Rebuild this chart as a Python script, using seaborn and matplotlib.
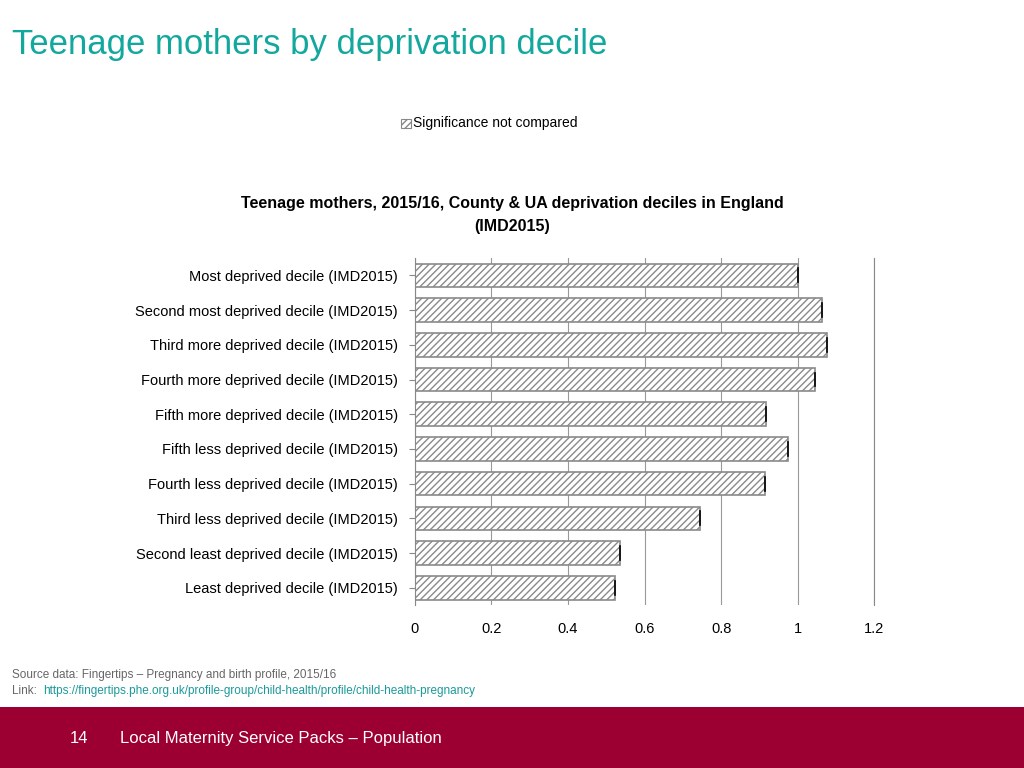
import pandas as pd
import seaborn as sns
import matplotlib.pyplot as plt
from matplotlib.patches import Rectangle

categories = ['Most deprived decile (IMD2015)', 'Second most deprived decile (IMD2015)',
              'Third more deprived decile (IMD2015)', 'Fourth more deprived decile (IMD2015)',
              'Fifth more deprived decile (IMD2015)', 'Fifth less deprived decile (IMD2015)',
              'Fourth less deprived decile (IMD2015)', 'Third less deprived decile (IMD2015)',
              'Second least deprived decile (IMD2015)', 'Least deprived decile (IMD2015)']
values = [1.0, 1.062, 1.075, 1.044, 0.918, 0.973, 0.913, 0.744, 0.537, 0.522]
ticks = [0, 0.2, 0.4, 0.6, 0.8, 1, 1.2]

df = pd.DataFrame({'decile': categories, 'value': values})

plt.rcParams['font.family'] = 'Liberation Sans'
plt.rcParams['hatch.color'] = '#9a9a9a'
plt.rcParams['hatch.linewidth'] = 1.0
fig = plt.figure(figsize=(10.24, 7.68), dpi=100)
ax = fig.add_axes([0.405, 0.212, 0.449, 0.452])
sns.barplot(data=df, y='decile', x='value', ax=ax, color='white', edgecolor='#8a8a8a',
            hatch='/////', linewidth=1.2, width=0.68)
for i, v in enumerate(values):
    ax.plot([v, v], [i - 0.2, i + 0.2], color='black', lw=1.2)
ax.set_xlim(0, 1.2)
ax.set_ylim(9.5, -0.5)
ax.set_xticks(ticks)
ax.set_xticklabels(['0', '0.2', '0.4', '0.6', '0.8', '1', '1.2'], fontsize=10.5)
ax.set_xlabel('')
ax.set_ylabel('')
ax.tick_params(axis='y', labelsize=10.5, length=4, color='#888888', pad=8)
ax.tick_params(axis='x', length=0, pad=12)
ax.grid(axis='x', color='#999999', lw=0.8)
ax.set_axisbelow(True)
for s in ['top', 'bottom']:
    ax.spines[s].set_visible(False)
ax.spines['left'].set_color('#888888')
ax.spines['right'].set_color('#888888')

fig.text(0.012, 0.93, 'Teenage mothers by deprivation decile', fontsize=25,
         color='#13a89e')
fig.text(0.5, 0.72, 'Teenage mothers, 2015/16, County & UA deprivation deciles in England\n(IMD2015)',
         ha='center', va='center', fontsize=11.5, fontweight='bold', linespacing=1.7)
fig.patches.append(Rectangle((0.392, 0.833), 0.009, 0.012, transform=fig.transFigure,
                             facecolor='white', edgecolor='#888888', hatch='/////', lw=0.8))
fig.text(0.403, 0.84, 'Significance not compared', fontsize=10, va='center')
fig.text(0.012, 0.117, 'Source data: Fingertips \u2013 Pregnancy and birth profile, 2015/16',
         fontsize=8.5, color='#666666')
fig.text(0.012, 0.096, 'Link: ', fontsize=8.5, color='#666666')
fig.text(0.042, 0.096, 'https://fingertips.phe.org.uk/profile-group/child-health/profile/child-health-pregnancy',
         fontsize=8.5, color='#1a9a9a')
fig.patches.append(Rectangle((0, 0), 1, 0.08, transform=fig.transFigure, facecolor='#9c0032', lw=0))
fig.text(0.068, 0.039, '14', fontsize=12, color='white', va='center')
fig.text(0.117, 0.039, 'Local Maternity Service Packs \u2013 Population', fontsize=12,
         color='white', va='center')

fig.savefig('out.png')
